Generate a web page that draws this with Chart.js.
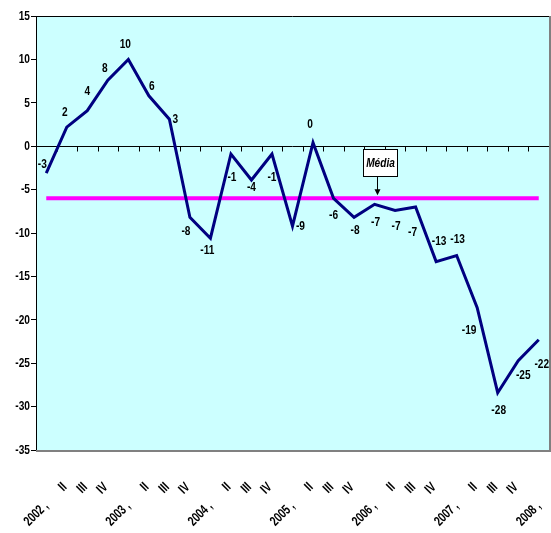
<!DOCTYPE html>
<html>
<head>
<meta charset="utf-8">
<script src="https://cdn.jsdelivr.net/npm/chart.js@4"></script>
<style>
  html, body { margin: 0; padding: 0; background: #fff; }
</style>
</head>
<body>
<canvas id="chart" width="551" height="533"></canvas>
<script>
// quarters 2002 I .. 2008 I
const quarters = [
  '2002 ,', 'II', 'III', 'IV',
  '2003 ,', 'II', 'III', 'IV',
  '2004 ,', 'II', 'III', 'IV',
  '2005 ,', 'II', 'III', 'IV',
  '2006 ,', 'II', 'III', 'IV',
  '2007 ,', 'II', 'III', 'IV',
  '2008 ,'
]
const saldo = [
  -3.1, 2.2, 4.1, 7.6,
  10.0, 5.8, 3.1, -8.2,
  -10.6, -0.9, -3.9, -0.9,
  -9.2, 0.4, -6.0, -8.2,
  -6.7, -7.4, -7.0, -13.3,
  -12.6, -18.6, -28.4, -24.7,
  -22.3
]
const media = [
  -6, -6, -6, -6, -6, -6, -6, -6, -6, -6, -6, -6, -6,
  -6, -6, -6, -6, -6, -6, -6, -6, -6, -6, -6, -6
]
const yTicks = [15, 10, 5, 0, -5, -10, -15, -20, -25, -30, -35]

// label nudges (px, relative to the point)
const labelNudge = [
  [-4, -9], [-2, -15], [0, -19], [-3, -12],
  [-3, -15], [3, -10], [6, 0], [-4, 14],
  [-3, 12], [1, 23], [0, 7], [0, 23],
  [8, 0], [-3, -18], [0, 17], [1, 13],
  [1, 18], [1, 16], [-3, 25], [3, -20],
  [1, -16], [-8, 23], [1, 18], [5, 15],
  [3, 24]
]

const FONT = '"Liberation Sans", Arial, sans-serif'
const NARROW = 0.78 // fake Arial Narrow

function narrowText(ctx, text, x, y, rot) {
  ctx.save()
  ctx.translate(x, y)
  if (rot) ctx.rotate(rot)
  ctx.scale(NARROW, 1.05)
  ctx.fillText(text, 0, 0)
  ctx.restore()
}

const frame = {
  id: 'frame',
  beforeDraw(chart) {
    const {ctx, chartArea: a} = chart
    ctx.save()
    ctx.fillStyle = '#fff'
    ctx.fillRect(0, 0, chart.width, chart.height)
    ctx.fillStyle = '#CCFFFF'
    ctx.fillRect(a.left, a.top, a.right - a.left, a.bottom - a.top)
    ctx.restore()
  },
  beforeDatasetsDraw(chart) {
    const {ctx, chartArea: a, scales} = chart
    const x = scales.x, y = scales.y
    const y0 = Math.round(y.getPixelForValue(0)) + 0.5
    const step = x.getPixelForValue(1) - x.getPixelForValue(0)
    ctx.save()
    ctx.strokeStyle = '#000'
    ctx.lineWidth = 1
    ctx.beginPath()
    ctx.moveTo(a.left, y0)
    ctx.lineTo(a.right, y0)
    for (let i = 0; i <= quarters.length; i++) {
      const px = Math.round(x.getPixelForValue(i) - step / 2) + 0.5
      ctx.moveTo(px, y0)
      ctx.lineTo(px, y0 + 5)
    }
    ctx.stroke()
    ctx.restore()
  },
  afterDraw(chart) {
    const {ctx, chartArea: a, scales} = chart
    const x = scales.x, y = scales.y
    ctx.save()
    // borders
    ctx.strokeStyle = '#000'
    ctx.lineWidth = 1
    ctx.beginPath()
    ctx.moveTo(a.left, a.top + 0.5)
    ctx.lineTo(a.right, a.top + 0.5)
    ctx.stroke()
    ctx.strokeStyle = '#808080'
    ctx.lineWidth = 2
    ctx.beginPath()
    ctx.moveTo(a.right + 1, a.top)
    ctx.lineTo(a.right + 1, a.bottom + 2)
    ctx.moveTo(a.left, a.bottom + 1)
    ctx.lineTo(a.right + 2, a.bottom + 1)
    ctx.stroke()

    ctx.fillStyle = '#000'
    ctx.textBaseline = 'middle'

    // y tick labels
    ctx.font = 'bold 13px ' + FONT
    ctx.textAlign = 'right'
    yTicks.forEach((v) => {
      narrowText(ctx, String(v), a.left - 6, y.getPixelForValue(v))
    })

    // data labels
    const meta = chart.getDatasetMeta(0)
    ctx.font = 'bold 13px ' + FONT
    ctx.textAlign = 'center'
    meta.data.forEach((pt, i) => {
      const n = labelNudge[i]
      narrowText(ctx, String(Math.round(saldo[i])), pt.x + n[0], pt.y + n[1])
    })

    // x labels, rotated
    ctx.font = 'bold 13px ' + FONT
    ctx.textAlign = 'right'
    quarters.forEach((lab, i) => {
      const cx = x.getPixelForValue(i)
      const isYear = i % 4 === 0
      narrowText(ctx, lab, cx + (isYear ? 0 : -2), a.bottom + (isYear ? 54 : 35), -Math.PI / 4)
    })

    // "Média" callout
    const mx = x.getPixelForValue(16)
    const my = y.getPixelForValue(media[16])
    const bx = Math.round(mx - 12) + 0.5, by = Math.round(my - 49) + 0.5
    ctx.fillStyle = '#fff'
    ctx.fillRect(bx, by, 34, 27)
    ctx.strokeStyle = '#000'
    ctx.lineWidth = 1
    ctx.strokeRect(bx, by, 34, 27)
    ctx.fillStyle = '#000'
    ctx.font = 'italic bold 13px ' + FONT
    ctx.textAlign = 'center'
    narrowText(ctx, 'Média', bx + 17, by + 14)
    const ax = Math.round(mx + 2) + 0.5
    ctx.beginPath()
    ctx.moveTo(ax, by + 27)
    ctx.lineTo(ax, my - 8)
    ctx.stroke()
    ctx.beginPath()
    ctx.moveTo(ax - 3, my - 9)
    ctx.lineTo(ax + 3, my - 9)
    ctx.lineTo(ax, my - 3)
    ctx.closePath()
    ctx.fill()
    ctx.restore()
  }
}

new Chart(document.getElementById('chart'), {
  type: 'line',
  data: {
    labels: quarters,
    datasets: [
      {
        label: 'Saldo',
        data: saldo,
        borderColor: '#000080',
        borderWidth: 3,
        pointRadius: 0,
        tension: 0,
        borderJoinStyle: 'miter'
      },
      {
        label: 'Média',
        data: media,
        borderColor: '#FF00FF',
        borderWidth: 4,
        pointRadius: 0
      }
    ]
  },
  options: {
    responsive: false,
    animation: false,
    layout: {padding: {top: 16, right: 2, left: 0, bottom: 0}},
    plugins: {
      legend: {display: false},
      tooltip: {enabled: false}
    },
    scales: {
      x: {
        offset: true,
        grid: {display: false},
        border: {display: false},
        ticks: {display: false},
        afterFit: (s) => { s.height = 83 }
      },
      y: {
        min: -35,
        max: 15,
        afterBuildTicks: (s) => { s.ticks = yTicks.map((v) => ({value: v})) },
        ticks: {
          color: 'rgba(0,0,0,0)',
          padding: 3,
          font: {family: FONT, size: 12, weight: 'bold'}
        },
        grid: {drawOnChartArea: false, drawTicks: true, tickLength: 5, color: '#000'},
        border: {color: '#000', width: 1},
        afterFit: (s) => { s.width = 36 }
      }
    }
  },
  plugins: [frame]
})
</script>
</body>
</html>
